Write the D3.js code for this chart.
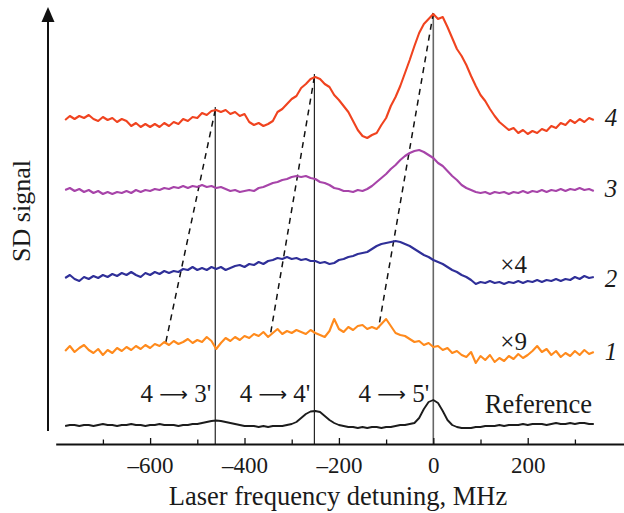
<!DOCTYPE html>
<html>
<head>
<meta charset="utf-8">
<script src="https://cdn.jsdelivr.net/npm/d3@7/dist/d3.min.js"></script>
<style>
  body { margin: 0; background: #fff; }
  svg { display: block; }
  text { font-family: "Liberation Serif", "Times New Roman", serif; fill: #1a1a1a; }
</style>
</head>
<body>
<svg id="chart" width="624" height="513"></svg>
<script>
// Laser frequency detuning, MHz (sampling grid of the recorded scans)
const detuning = [
  -780,-770,-760,-750,-740,-730,-720,-710,-700,-690,
  -680,-670,-660,-650,-640,-630,-620,-610,-600,-590,
  -580,-570,-560,-550,-540,-530,-520,-510,-500,-490,
  -480,-470,-460,-450,-440,-430,-420,-410,-400,-390,
  -380,-370,-360,-350,-340,-330,-320,-310,-300,-290,
  -280,-270,-260,-250,-240,-230,-220,-210,-200,-190,
  -180,-170,-160,-150,-140,-130,-120,-110,-100,-90,
  -80,-70,-60,-50,-40,-30,-20,-10,0,10,
  20,30,40,50,60,70,80,90,100,110,
  120,130,140,150,160,170,180,190,200,210,
  220,230,240,250,260,270,280,290,300,310,
  320,330,340
];

// SD signal traces (arbitrary units, vertically offset for display)
const trace4 = [
  324,328,325,328,326,329,325,323,327,324,
  326,322,325,323,318,321,317,320,317,320,
  317,321,318,322,320,325,323,327,326,331,
  329,333,334,332,334,330,332,328,330,322,
  319,321,318,320,323,332,335,340,345,348,
  356,360,365,367,365,360,357,349,344,338,
  332,323,314,308,306,309,311,319,326,338,
  347,358,371,384,398,411,420,425,430,425,
  427,417,406,395,388,379,368,358,349,343,
  335,328,322,318,314,316,311,314,310,313,
  311,315,313,318,316,321,319,324,321,325,
  322,326,324
];
const trace3 = [
  254,256,253,255,252,254,251,253,250,252,
  250,252,251,253,251,254,252,254,253,255,
  254,256,255,257,256,258,256,258,257,259,
  257,258,256,257,255,253,254,252,253,254,
  253,256,257,259,261,262,264,265,267,268,
  267,268,266,265,262,261,259,256,255,253,
  253,252,254,253,255,258,262,266,270,275,
  279,284,288,291,293,294,292,289,286,281,
  278,273,268,264,259,256,254,252,251,252,
  250,252,251,252,250,252,251,253,251,253,
  252,254,252,254,253,255,253,255,254,256,
  254,255,253
];
const trace2 = [
  166,169,165,163,167,165,168,166,169,167,
  170,168,171,169,172,169,167,171,169,172,
  170,173,171,173,172,175,174,177,174,176,
  174,177,175,177,174,176,178,179,177,180,
  179,182,180,183,184,186,185,187,185,186,
  184,185,183,183,181,182,180,181,184,185,
  187,188,190,191,192,195,198,200,201,202,
  203,202,200,198,195,192,189,187,184,182,
  180,177,174,172,169,167,164,160,162,161,
  163,161,162,160,162,161,163,161,163,162,
  164,162,164,163,165,163,165,164,167,165,
  168,166,167
];
const trace1 = [
  93,98,92,96,99,94,91,95,89,94,
  91,96,93,97,94,98,95,99,96,100,
  98,102,99,103,100,102,105,101,104,102,
  107,103,95,101,106,103,107,104,108,106,
  110,108,112,107,111,115,110,113,111,114,
  112,110,114,111,109,107,113,125,115,112,
  117,114,118,119,115,117,115,120,125,118,
  111,109,108,105,102,103,99,101,97,98,
  94,96,91,93,89,87,92,81,88,84,
  89,82,86,83,88,85,90,86,89,93,
  98,92,95,89,93,87,91,88,93,89,
  94,90,92
];
const reference = [
  18,19,19,18,19,19,18,19,20,19,
  19,18,19,19,20,19,19,18,19,19,
  20,19,19,19,18,19,19,20,20,21,
  22,23,23.5,23,22,21,20,19,18,18,
  18,17,18,17,18,18,18,19,20,22,
  26,30,32.5,33,32,28,24,21,19,18,
  17,17,16,17,16,17,17,16,17,17,
  18,19,19,20,21,26,35,42,44,41,
  33,24,19,17,16,16,16,17,17,18,
  18,18,19,18,19,19,19,20,19,20,
  20,20,19,20,21,20,20,21,20,21,
  21,20,20
];

// Hyperfine transitions of the reference spectrum
const transitionLower = ["4", "4", "4"];
const transitionUpper = ["3'", "4'", "5'"];
const transitionDetuning = [-462, -252, 0];
const transitionTopSignal = [337, 370, 431];

const shiftTopDetuning = [-462, -252, 0];
const shiftTopSignal = [334, 367, 431];
const shiftBottomDetuning = [-568, -346, -116];
const shiftBottomSignal = [99, 107, 116];

// Axis ticks
const majorTicks = [-600, -400, -200, 0, 200];
const minorTicks = [-700, -500, -300, -100, 100, 300];

// Trace labels and gain factors
const traceNames = ["1", "2", "3", "4"];
const traceLabelSignal = [84, 157, 247, 318];
const gainNames = ["\u00d79", "\u00d74"];
const gainSignal = [94, 171];

const svg = d3.select("#chart");
const x = d3.scaleLinear().domain([-800, 404]).range([55.7, 624]);
const y = d3.scaleLinear().domain([0, 440]).range([444, 4]);

const series = [
  { values: trace4, color: "#f0431f", width: 2.1 },
  { values: trace3, color: "#a744a9", width: 2.1 },
  { values: trace2, color: "#2f2f98", width: 2.1 },
  { values: trace1, color: "#ff8a1c", width: 2.1 },
  { values: reference, color: "#1c1c1c", width: 1.9 }
];

// Vertical markers at the transition frequencies
svg.append("g").selectAll("line")
  .data(transitionDetuning)
  .join("line")
  .attr("x1", d => x(d)).attr("x2", d => x(d))
  .attr("y1", (d, i) => y(transitionTopSignal[i]))
  .attr("y2", y(0))
  .attr("stroke", (d, i) => i === 2 ? "#666" : "#111")
  .attr("stroke-width", (d, i) => i === 2 ? 1.6 : 1.1);

// Dashed lines following the peak shift
svg.append("g").selectAll("line")
  .data(shiftTopDetuning)
  .join("line")
  .attr("x1", d => x(d))
  .attr("y1", (d, i) => y(shiftTopSignal[i]))
  .attr("x2", (d, i) => x(shiftBottomDetuning[i]))
  .attr("y2", (d, i) => y(shiftBottomSignal[i]))
  .attr("stroke", "#111")
  .attr("stroke-width", 1.5)
  .attr("stroke-dasharray", "6,5");

// Traces
const line = d3.line()
  .x((d, i) => x(detuning[i]))
  .y(d => y(d));

svg.append("g").selectAll("path")
  .data(series)
  .join("path")
  .attr("d", s => line(s.values))
  .attr("fill", "none")
  .attr("stroke", s => s.color)
  .attr("stroke-width", s => s.width)
  .attr("stroke-linejoin", "round");

// X axis with inward ticks
const fmt = d => d < 0 ? "\u2013" + Math.abs(d) : String(d);
const xAxis = svg.append("g")
  .attr("transform", `translate(0,${y(0)})`)
  .call(d3.axisBottom(x).tickValues(majorTicks).tickFormat(fmt)
    .tickSizeInner(-6).tickSizeOuter(0).tickPadding(13));
xAxis.select(".domain").attr("stroke", "#111").attr("stroke-width", 2);
xAxis.selectAll(".tick line").attr("stroke", "#111").attr("stroke-width", 1.3);
xAxis.selectAll(".tick text")
  .style("font-family", "'Liberation Serif', 'Times New Roman', serif")
  .style("font-size", "23px").attr("fill", "#1a1a1a");

const xMinor = svg.append("g")
  .attr("transform", `translate(0,${y(0)})`)
  .call(d3.axisBottom(x).tickValues(minorTicks).tickFormat("")
    .tickSizeInner(-4.5).tickSizeOuter(0));
xMinor.select(".domain").remove();
xMinor.selectAll(".tick line").attr("stroke", "#111").attr("stroke-width", 1.3);

svg.append("text")
  .attr("x", 338).attr("y", 505)
  .attr("text-anchor", "middle")
  .style("font-size", "26.5px")
  .text("Laser frequency detuning, MHz");

// Y axis: bare arrow
svg.append("line")
  .attr("x1", 48).attr("x2", 48)
  .attr("y1", 431).attr("y2", 19)
  .attr("stroke", "#111").attr("stroke-width", 2);
svg.append("path")
  .attr("d", "M48,7 L41.5,22 L54.5,22 Z")
  .attr("fill", "#111");
svg.append("text")
  .attr("transform", "translate(30,211) rotate(-90)")
  .attr("text-anchor", "middle")
  .style("font-size", "26px")
  .text("SD signal");

// Transition labels
const tLabels = svg.append("g").selectAll("text")
  .data(transitionUpper)
  .join("text")
  .attr("x", (d, i) => x(transitionDetuning[i]) - 4)
  .attr("y", 402)
  .attr("text-anchor", "end")
  .style("font-size", "25px");
tLabels.append("tspan").text((d, i) => transitionLower[i] + " ");
tLabels.append("tspan")
  .style("font-family", "'DejaVu Sans', sans-serif")
  .style("font-size", "20px")
  .attr("dy", -1)
  .text("\u27f6");
tLabels.append("tspan").attr("dy", 1).text(d => " " + d);

svg.append("text")
  .attr("x", x(109)).attr("y", 413)
  .style("font-size", "26.5px")
  .text("Reference");

// Trace numbers
svg.append("g").selectAll("text")
  .data(traceNames)
  .join("text")
  .attr("x", x(363))
  .attr("y", (d, i) => y(traceLabelSignal[i]))
  .style("font-size", "25px")
  .style("font-style", "italic")
  .text(d => d);

// Gain factors
svg.append("g").selectAll("text")
  .data(gainNames)
  .join("text")
  .attr("x", x(142))
  .attr("y", (d, i) => y(gainSignal[i]))
  .style("font-size", "25px")
  .text(d => d);
</script>
</body>
</html>
